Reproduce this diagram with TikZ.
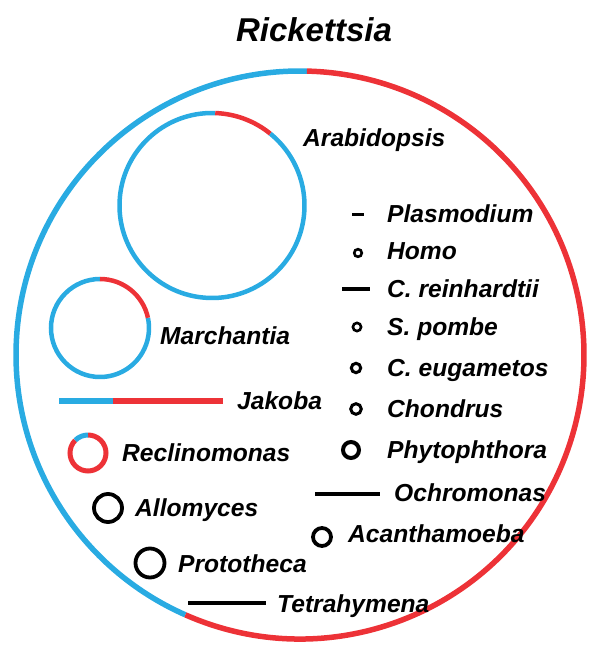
\documentclass[tikz,border=0pt]{standalone}
\usepackage{fontspec}
\setmainfont{Liberation Sans}
\definecolor{mtblue}{RGB}{41,171,226}
\definecolor{mtred}{RGB}{237,50,55}
\tikzset{
  species/.style={anchor=base west, inner sep=0pt, font=\fontsize{24.6}{24.6}\selectfont\bfseries\itshape},
  genome/.style={black, line width=3.8pt}
}
\begin{document}
\begin{tikzpicture}[x=1pt, y=1pt]
\useasboundingbox (0,0) rectangle (590,656);

% title
\node[anchor=base, inner sep=0pt, font=\fontsize{33}{33}\selectfont\bfseries\itshape] (rick) at (314,614) {Rickettsia};

% big genome circle
\coordinate (rc) at (300,301);
\draw[mtblue, line width=5.5pt] (rc) ++(88.6:284) arc[start angle=88.6, end angle=246.2, radius=284];
\draw[mtred, line width=5.5pt] (rc) ++(246.2:284) arc[start angle=246.2, end angle=448.6, radius=284];

% Arabidopsis
\coordinate (ac) at (212,450.5);
\draw[mtblue, line width=4.5pt] (ac) ++(88:92.5) arc[start angle=88, end angle=411, radius=92.5];
\draw[mtred, line width=4.5pt] (ac) ++(51:92.5) arc[start angle=51, end angle=88, radius=92.5];
\node[species] (arab) at (303,509) {Arabidopsis};

% Marchantia
\coordinate (mc) at (100,328);
\draw[mtblue, line width=4.5pt] (mc) ++(90:49) arc[start angle=90, end angle=372, radius=49];
\draw[mtred, line width=4.5pt] (mc) ++(12:49) arc[start angle=12, end angle=90, radius=49];
\node[species] (march) at (160,311) {Marchantia};

% Jakoba
\coordinate (j0) at (59,255);
\coordinate (j1) at (113,255);
\coordinate (j2) at (223,255);
\draw[mtblue, line width=5.5pt] (j0) -- (j1);
\draw[mtred, line width=5.5pt] (j1) -- (j2);
\node[species] (jak) at (237,246) {Jakoba};

% Reclinomonas
\coordinate (recc) at (88,203);
\draw[mtred, line width=5pt] (recc) ++(135:18) arc[start angle=135, end angle=450, radius=18];
\draw[mtblue, line width=5pt] (recc) ++(90:18) arc[start angle=90, end angle=135, radius=18];
\node[species] (recl) at (122,194) {Reclinomonas};

% left black genomes
\draw[genome] (108,148) circle (14);
\node[species] (allo) at (135,139) {Allomyces};
\draw[genome] (150,93) circle (14.5);
\node[species] (prot) at (178,83) {Prototheca};
\draw[genome, line width=3.5pt] (188,53) -- (266,53);
\node[species] (tetr) at (277,43) {Tetrahymena};
\draw[genome, line width=3.5pt] (315,162) -- (380,162);
\node[species] (ochr) at (394,154) {Ochromonas};
\draw[genome] (322,119) circle (9);
\node[species] (acan) at (348,113) {Acanthamoeba};

% right column
\draw[genome, line width=3pt] (352,441) -- (364,441);
\draw[genome, line width=2.6pt] (358,403) circle (3.8);
\draw[genome, line width=3.5pt] (342,367) -- (370,367);
\draw[genome, line width=2.6pt] (357,329) circle (4.1);
\draw[genome, line width=3pt] (356,288) circle (4.7);
\draw[genome, line width=3pt] (356,247) circle (5.3);
\draw[genome, line width=4pt] (351,206) circle (8);
\foreach \nm/\yb/\txt in {plas/433/Plasmodium, homo/396/Homo, crein/358/C. reinhardtii,
    spom/320/S. pombe, ceug/279/C. eugametos, chon/238/Chondrus, phyt/197/Phytophthora} {
  \node[species] (\nm) at (387,\yb) {\txt};
}

\end{tikzpicture}
\end{document}
